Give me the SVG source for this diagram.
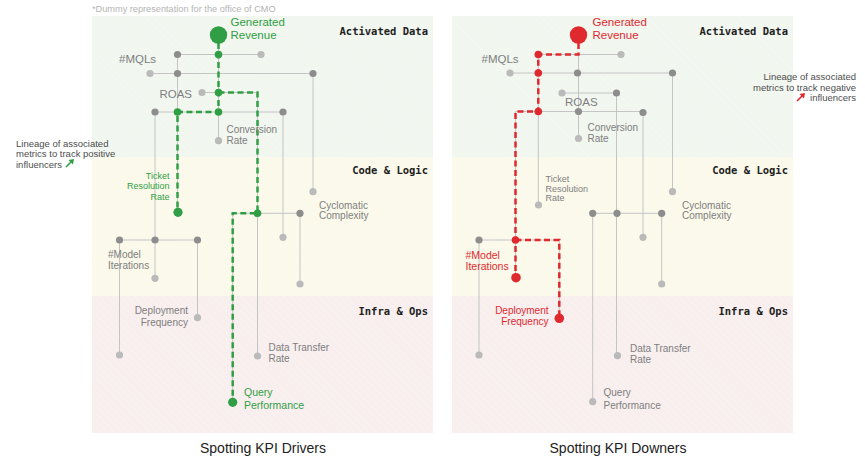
<svg xmlns="http://www.w3.org/2000/svg" width="865" height="461" viewBox="0 0 865 461">
<style>
.t{font-family:"Liberation Sans",Arial,sans-serif;font-size:10px;fill:#7e7e7e}
.big{font-size:11.5px}
.sm{font-size:9px}
.tg{fill:#2f9e44}
.tr{fill:#e0292f}
.e{text-anchor:end}
.m{text-anchor:middle}
.hdr{font-family:"DejaVu Sans Mono","Liberation Mono",monospace;font-weight:bold;font-size:10.5px;fill:#222;text-anchor:end}
.ttl{font-family:"Liberation Sans",Arial,sans-serif;font-size:14px;fill:#222;text-anchor:middle}
.note{font-family:"Liberation Sans",Arial,sans-serif;font-size:9.2px;fill:#b4b4b4}
.ann{font-family:"Liberation Sans",Arial,sans-serif;font-size:9.5px;fill:#4d4d4d}
.ln{stroke:#c4c4c4;stroke-width:1;fill:none}
.dg{stroke:#2f9e44;stroke-width:2.5;stroke-dasharray:6 3.5;fill:none}
.dr{stroke:#e0292f;stroke-width:2.5;stroke-dasharray:6 3.5;fill:none}
.nd{fill:#8d8d8d}
.nl{fill:#bababa}
.ng{fill:#2f9e44}
.nr{fill:#e0292f}
</style>
<defs>
<pattern id="hatch" width="5" height="5" patternUnits="userSpaceOnUse" patternTransform="rotate(-45)">
<line x1="0" y1="0" x2="0" y2="5" stroke="#ffffff" stroke-width="1" stroke-opacity="0.35"/>
</pattern>
</defs>
<rect width="865" height="461" fill="#ffffff"/>
<g id="panel-left">
<rect x="92" y="16" width="341" height="141" fill="#f1f6ef"/>
<rect x="92" y="157" width="341" height="139" fill="#fbf9ea"/>
<rect x="92" y="296" width="341" height="137" fill="#f8eeee"/>
<rect x="92" y="16" width="341" height="417" fill="url(#hatch)"/>
</g>
<g id="panel-right">
<rect x="452" y="16" width="341" height="141" fill="#f1f6ef"/>
<rect x="452" y="157" width="341" height="139" fill="#fbf9ea"/>
<rect x="452" y="296" width="341" height="137" fill="#f8eeee"/>
<rect x="452" y="16" width="341" height="417" fill="url(#hatch)"/>
</g>
<text class="note" x="92" y="12">*Dummy representation for the office of CMO</text>
<g id="headers">
<text class="hdr" x="428" y="35">Activated Data</text>
<text class="hdr" x="428" y="174">Code &amp; Logic</text>
<text class="hdr" x="428" y="315">Infra &amp; Ops</text>
<text class="hdr" x="788" y="35">Activated Data</text>
<text class="hdr" x="788" y="174">Code &amp; Logic</text>
<text class="hdr" x="788" y="315">Infra &amp; Ops</text>
</g>
<text class="ttl" x="263" y="453">Spotting KPI Drivers</text>
<text class="ttl" x="618" y="453">Spotting KPI Downers</text>
<g id="annotation-left">
<text class="ann" x="16" y="146.5">Lineage of associated</text>
<text class="ann" x="16" y="157">metrics to track positive</text>
<text class="ann" x="16" y="167.5">influencers</text>
<path d="M66 167 L72.5 160.5" stroke="#2f9e44" stroke-width="1.6"/>
<polygon points="74,159 68.5,160 73,164.5" fill="#2f9e44"/>
</g>
<g id="annotation-right">
<text class="ann e" x="856" y="80">Lineage of associated</text>
<text class="ann e" x="856" y="90.5">metrics to track negative</text>
<text class="ann e" x="856" y="101">influencers</text>
<path d="M797 101 L803.5 94.5" stroke="#e0292f" stroke-width="1.6"/>
<polygon points="805,93 799.5,94 804,98.5" fill="#e0292f"/>
</g>

<g id="connectors">
<!-- left gray -->
<path class="ln" d="M177.5 54.5H261 M150 73.5H313 M202 92.5H257.5 M155 112H283 M232.7 213.3H300 M119.5 240H197.5
M177.5 54.5V212 M218.5 35V140.7 M155 112V278.3 M257.5 92.5V356 M283 112V237.3 M313 73.5V191.7 M300 213.3V284 M119.5 240V355 M197.5 240V317.7 M232.7 213.3V402.3"/>
<!-- left green -->
<path class="dg" d="M218.5 43V112H177.5V208"/>
<path class="dg" d="M218.5 92.5H257.5V213.3H232.7V398"/>
<!-- right gray -->
<path class="ln" d="M538.3 54.5H621 M510 73H672.5 M562 93H616.5 M515.5 111.5H643 M592.7 213.3H661.7 M479 240H559.3
M578.5 54.5V138.5 M538.3 54.5V205 M515.5 111.5V277.7 M616.5 93V355.7 M643 111.5V237.3 M672.5 73V191.7 M661.7 213.3V284 M479 240V355 M559.3 240V318.3 M592.7 213.3V401.7"/>
<!-- right red -->
<path class="dr" d="M578.5 43V54.5H538.3V111.5H515.5V274"/>
<path class="dr" d="M515.5 240H559.3V314"/>
</g>

<!-- LEFT NODES -->
<g id="L-generated-revenue"><circle class="ng" cx="218.5" cy="35" r="8.7"/><text class="t big tg" x="230.5" y="26">Generated</text><text class="t big tg" x="230.5" y="38.5">Revenue</text></g>
<g id="L-mqls"><circle class="nd" cx="177.5" cy="54.5" r="3.6"/><text class="t big" x="119" y="63">#MQLs</text></g>
<g id="L-n1"><circle class="ng" cx="218.5" cy="54.5" r="3.8"/></g>
<g id="L-n2"><circle class="nl" cx="261" cy="54.5" r="3.6"/></g>
<g id="L-n3"><circle class="nl" cx="150" cy="73.5" r="3.6"/></g>
<g id="L-n4"><circle class="nd" cx="177.5" cy="73.5" r="3.6"/></g>
<g id="L-n5"><circle class="nd" cx="313" cy="73.5" r="3.6"/></g>
<g id="L-roas"><circle class="nl" cx="202" cy="92.5" r="3.6"/><text class="t big e" x="192" y="98">ROAS</text></g>
<g id="L-n6"><circle class="ng" cx="218.5" cy="92.5" r="3.8"/></g>
<g id="L-n7"><circle class="nd" cx="155" cy="112" r="3.6"/></g>
<g id="L-n8"><circle class="ng" cx="177.5" cy="112" r="3.8"/></g>
<g id="L-n9"><circle class="ng" cx="218.5" cy="112" r="3.8"/></g>
<g id="L-n10"><circle class="nd" cx="283" cy="112" r="3.6"/></g>
<g id="L-conversion-rate"><circle class="nl" cx="218.5" cy="140.7" r="3.6"/><text class="t" x="226.5" y="133">Conversion</text><text class="t" x="226.5" y="144">Rate</text></g>
<g id="L-ticket-resolution-rate"><circle class="ng" cx="178" cy="212.3" r="4.6"/><text class="t sm tg e" x="169.5" y="178.5">Ticket</text><text class="t sm tg e" x="169.5" y="189">Resolution</text><text class="t sm tg e" x="169.5" y="199.5">Rate</text></g>
<g id="L-cyclomatic-complexity"><circle class="nl" cx="313" cy="191.7" r="3.6"/><text class="t" x="319" y="208.5">Cyclomatic</text><text class="t" x="319" y="219">Complexity</text></g>
<g id="L-n11"><circle class="ng" cx="257.5" cy="213.3" r="3.8"/></g>
<g id="L-n12"><circle class="nd" cx="300" cy="213.3" r="3.6"/></g>
<g id="L-n13"><circle class="nl" cx="283" cy="237.3" r="3.6"/></g>
<g id="L-model-iterations"><circle class="nd" cx="119.5" cy="240" r="3.6"/><text class="t" x="108" y="257.5">#Model</text><text class="t" x="108" y="269">Iterations</text></g>
<g id="L-n14"><circle class="nd" cx="155" cy="240" r="3.6"/></g>
<g id="L-n15"><circle class="nd" cx="197.5" cy="240" r="3.6"/></g>
<g id="L-n16"><circle class="nl" cx="155" cy="278.3" r="3.6"/></g>
<g id="L-n17"><circle class="nl" cx="300" cy="284" r="3.6"/></g>
<g id="L-deployment-frequency"><circle class="nl" cx="197.5" cy="317.7" r="3.6"/><text class="t e" x="188" y="314">Deployment</text><text class="t e" x="188" y="325.5">Frequency</text></g>
<g id="L-n18"><circle class="nl" cx="119.5" cy="355" r="3.6"/></g>
<g id="L-data-transfer-rate"><circle class="nl" cx="257.5" cy="356" r="3.6"/><text class="t" x="268.5" y="351">Data Transfer</text><text class="t" x="268.5" y="362">Rate</text></g>
<g id="L-query-performance"><circle class="ng" cx="232.7" cy="402.3" r="4.6"/><text class="t tg" x="244" y="396" style="font-size:10.5px">Query</text><text class="t tg" x="244" y="408.5" style="font-size:10.5px">Performance</text></g>

<!-- RIGHT NODES -->
<g id="R-generated-revenue"><circle class="nr" cx="578.5" cy="35" r="8.7"/><text class="t big tr" x="592.5" y="26">Generated</text><text class="t big tr" x="592.5" y="38.5">Revenue</text></g>
<g id="R-mqls"><circle class="nr" cx="538.3" cy="54.5" r="3.8"/><text class="t big" x="481.5" y="63">#MQLs</text></g>
<g id="R-n1"><circle class="nl" cx="621" cy="54.5" r="3.6"/></g>
<g id="R-n2"><circle class="nl" cx="510" cy="73" r="3.6"/></g>
<g id="R-n3"><circle class="nr" cx="538.3" cy="73" r="3.8"/></g>
<g id="R-n4"><circle class="nd" cx="577.5" cy="73" r="3.6"/></g>
<g id="R-n5"><circle class="nd" cx="672.5" cy="73" r="3.6"/></g>
<g id="R-roas"><circle class="nl" cx="562" cy="93" r="3.6"/><text class="t big" x="565" y="105.5">ROAS</text></g>
<g id="R-n6"><circle class="nd" cx="616.5" cy="93" r="3.6"/></g>
<g id="R-n7"><circle class="nr" cx="538.3" cy="111.5" r="3.8"/></g>
<g id="R-n8"><circle class="nd" cx="578.5" cy="111.5" r="3.6"/></g>
<g id="R-n9"><circle class="nd" cx="643" cy="112.5" r="3.6"/></g>
<g id="R-conversion-rate"><circle class="nl" cx="578.5" cy="138.5" r="3.6"/><text class="t" x="587.5" y="131">Conversion</text><text class="t" x="587.5" y="142">Rate</text></g>
<g id="R-ticket-resolution-rate"><circle class="nl" cx="538.5" cy="205" r="3.6"/><text class="t sm" x="545.5" y="181.5">Ticket</text><text class="t sm" x="545.5" y="191.5">Resolution</text><text class="t sm" x="545.5" y="201">Rate</text></g>
<g id="R-cyclomatic-complexity"><circle class="nl" cx="672.5" cy="191.7" r="3.6"/><text class="t" x="682" y="208.5">Cyclomatic</text><text class="t" x="682" y="219">Complexity</text></g>
<g id="R-n10"><circle class="nd" cx="592.7" cy="213.3" r="3.6"/></g>
<g id="R-n11"><circle class="nd" cx="617" cy="213.3" r="3.6"/></g>
<g id="R-n12"><circle class="nd" cx="661.7" cy="213.3" r="3.6"/></g>
<g id="R-n13"><circle class="nl" cx="643" cy="237.3" r="3.6"/></g>
<g id="R-n14"><circle class="nd" cx="479" cy="240" r="3.6"/></g>
<g id="R-n15"><circle class="nr" cx="515.5" cy="240" r="3.8"/></g>
<g id="R-model-iterations"><circle class="nr" cx="516" cy="277.7" r="4.8"/><text class="t tr" x="465.5" y="258.5" style="font-size:10.5px">#Model</text><text class="t tr" x="465.5" y="270" style="font-size:10.5px">Iterations</text></g>
<g id="R-n16"><circle class="nl" cx="661.7" cy="284" r="3.6"/></g>
<g id="R-deployment-frequency"><circle class="nr" cx="559.3" cy="318.3" r="4.8"/><text class="t tr e" x="548.5" y="313.5">Deployment</text><text class="t tr e" x="548.5" y="325">Frequency</text></g>
<g id="R-n17"><circle class="nl" cx="479" cy="355" r="3.6"/></g>
<g id="R-data-transfer-rate"><circle class="nl" cx="617.5" cy="355.7" r="3.6"/><text class="t" x="630" y="352">Data Transfer</text><text class="t" x="630" y="363">Rate</text></g>
<g id="R-query-performance"><circle class="nl" cx="592.7" cy="401.7" r="3.6"/><text class="t" x="603.5" y="396">Query</text><text class="t" x="603.5" y="408.5">Performance</text></g>
</svg>
